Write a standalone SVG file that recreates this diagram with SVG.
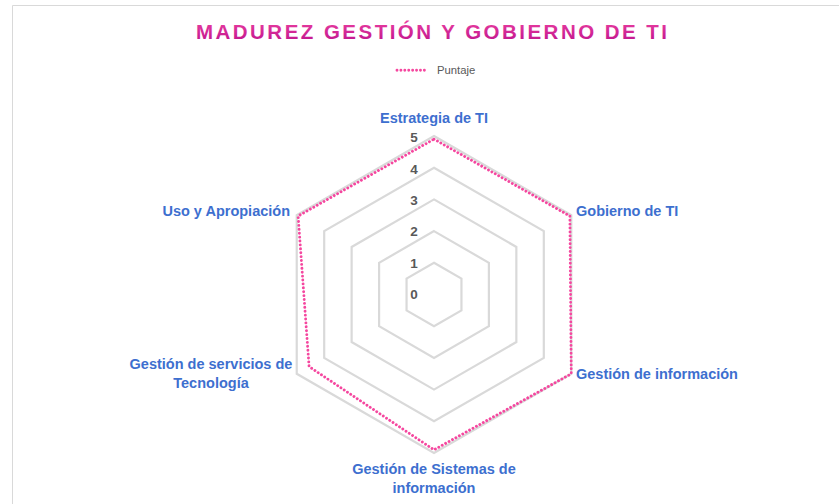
<svg xmlns="http://www.w3.org/2000/svg" width="839" height="504" viewBox="0 0 839 504">
<defs>
<linearGradient id="tg" x1="0" y1="0" x2="0" y2="1">
<stop offset="0" stop-color="#ea3fa0"/>
<stop offset="1" stop-color="#bd128d"/>
</linearGradient>
<style>
.grid{fill:none;stroke:#d9d9d9;stroke-width:2.2;stroke-linejoin:miter}
.data{fill:none;stroke:#f5479f;stroke-width:2.9;stroke-dasharray:0.01 3.9;stroke-linecap:round;stroke-linejoin:round}
.ax{font-family:"Liberation Sans",Arial,sans-serif;font-weight:bold;font-size:14.5px;fill:#3d6fcf}
.tick{font-family:"Liberation Sans",Arial,sans-serif;font-weight:bold;font-size:13.5px;fill:#595959;text-anchor:middle}
</style>
</defs>
<rect x="0" y="0" width="839" height="504" fill="#ffffff"/>
<path d="M12.5 504 V5.5 H839" fill="none" stroke="#d9d9d9" stroke-width="1"/>
<g id="title">
<text x="196" y="39.3" textLength="471" lengthAdjust="spacing" font-family="'Liberation Sans',Arial,sans-serif" font-weight="bold" font-size="20.5" fill="url(#tg)">MADUREZ GESTIÓN Y GOBIERNO DE TI</text>
</g>
<g id="legend">
<line x1="397" y1="70.3" x2="428" y2="70.3" class="data"/>
<text x="437" y="73.6" font-family="'Liberation Sans',Arial,sans-serif" font-size="11.3" fill="#595959">Puntaje</text>
</g>
<g id="grid">
<polygon class="grid" points="434,262.8 461.45,278.65 461.45,310.35 434,326.2 406.55,310.35 406.55,278.65"/>
<polygon class="grid" points="434,231.1 488.9,262.8 488.9,326.2 434,357.9 379.1,326.2 379.1,262.8"/>
<polygon class="grid" points="434,199.4 516.36,246.95 516.36,342.05 434,389.6 351.64,342.05 351.64,246.95"/>
<polygon class="grid" points="434,167.7 543.81,231.1 543.81,357.9 434,421.3 324.19,357.9 324.19,231.1"/>
<polygon class="grid" points="434,136 571.26,215.25 571.26,373.75 434,453 296.74,373.75 296.74,215.25"/>
</g>
<g id="ticks">
<text class="tick" x="414" y="299.2">0</text>
<text class="tick" x="414" y="267.7">1</text>
<text class="tick" x="414" y="236">2</text>
<text class="tick" x="414" y="205">3</text>
<text class="tick" x="414" y="174">4</text>
<text class="tick" x="414" y="141.7">5</text>
</g>
<g id="connectors">
<polygon id="series-puntaje" class="data" points="434,139.17 569.88,216.04 571.26,373.75 434,449.83 309.09,366.62 298.12,216.04"/>
</g>
<g id="node-estrategia"><text class="ax" x="434" y="123.3" text-anchor="middle">Estrategia de TI</text></g>
<g id="node-gobierno"><text class="ax" x="576" y="215.7">Gobierno de TI</text></g>
<g id="node-informacion"><text class="ax" x="576" y="379.3">Gestión de información</text></g>
<g id="node-sistemas"><text class="ax" x="434" y="474.3" text-anchor="middle">Gestión de Sistemas de</text><text class="ax" x="434" y="492.7" text-anchor="middle">información</text></g>
<g id="node-servicios"><text class="ax" x="211" y="369.3" text-anchor="middle">Gestión de servicios de</text><text class="ax" x="211" y="387.7" text-anchor="middle">Tecnología</text></g>
<g id="node-uso"><text class="ax" x="290" y="215.7" text-anchor="end">Uso y Apropiación</text></g>
</svg>
